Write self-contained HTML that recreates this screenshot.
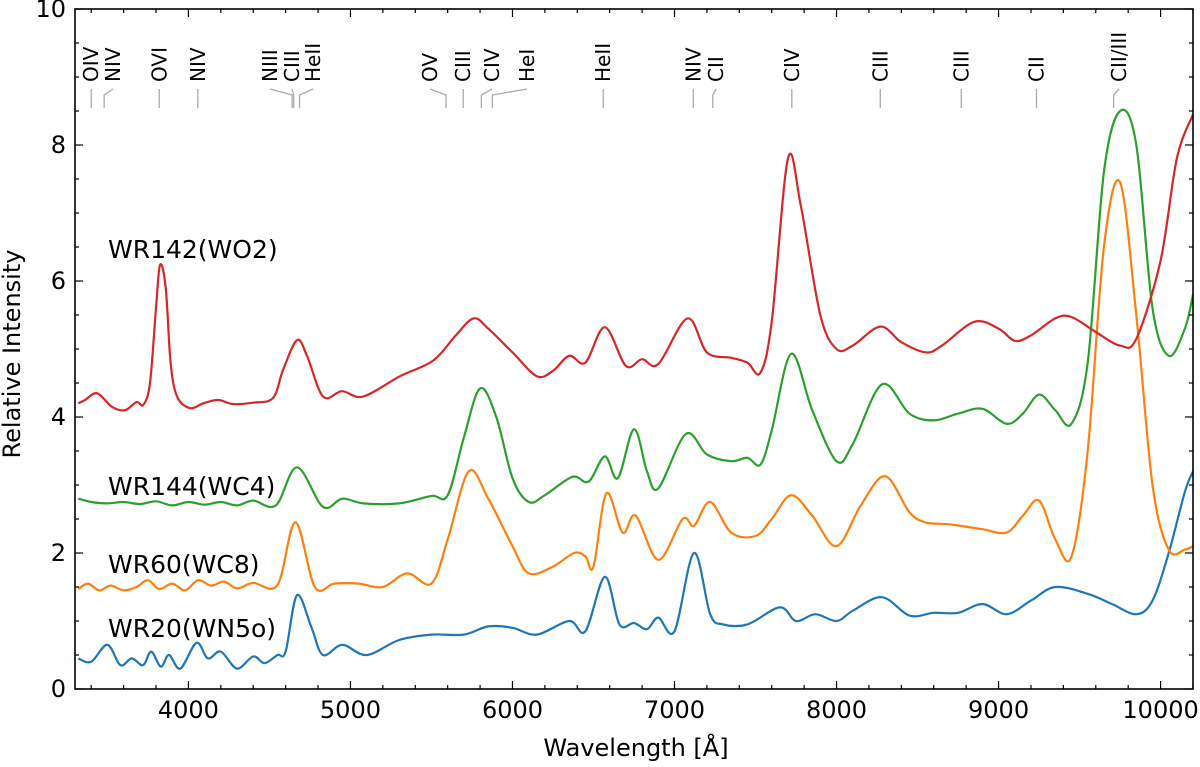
<!DOCTYPE html>
<html><head><meta charset="utf-8"><style>
html,body{margin:0;padding:0;background:#fff;}
svg text{font-family:"DejaVu Sans","Liberation Sans",sans-serif;}
</style></head><body>
<svg id="chart" width="1200" height="762" viewBox="0 0 1200 762" xmlns="http://www.w3.org/2000/svg">
<g id="lines"></g>
<g id="annots"></g>
<g id="axes"></g>
</svg>
<script>
const xTicks=[4000,5000,6000,7000,8000,9000,10000];
const yTicks=[0,2,4,6,8,10];
const seriesNames=["WR20(WN5o)","WR60(WC8)","WR144(WC4)","WR142(WO2)"];
const seriesColors=["#1f77b4","#ff7f0e","#2ca02c","#d62728"];
const wr142=[[3320,4.2],[3362,4.25],[3436,4.35],[3528,4.15],[3609,4.1],[3680,4.22],[3722,4.18],[3763,4.5],[3800,5.6],[3825,6.24],[3860,5.9],[3890,4.8],[3930,4.3],[4010,4.13],[4090,4.2],[4183,4.25],[4275,4.19],[4399,4.21],[4522,4.28],[4584,4.69],[4670,5.13],[4732,4.9],[4831,4.3],[4948,4.38],[5078,4.3],[5306,4.6],[5510,4.83],[5650,5.2],[5760,5.45],[5850,5.3],[6000,4.95],[6150,4.6],[6250,4.68],[6350,4.9],[6450,4.8],[6570,5.32],[6700,4.75],[6800,4.85],[6900,4.78],[7080,5.45],[7200,4.95],[7350,4.87],[7450,4.8],[7530,4.65],[7600,5.4],[7700,7.8],[7780,7.1],[7900,5.5],[8000,5.0],[8100,5.05],[8270,5.33],[8400,5.1],[8550,4.95],[8650,5.05],[8850,5.4],[9000,5.3],[9100,5.12],[9200,5.2],[9350,5.45],[9450,5.47],[9600,5.25],[9750,5.05],[9850,5.15],[10000,6.3],[10100,7.8],[10200,8.45]];
const wr144=[[3320,2.8],[3400,2.75],[3500,2.73],[3600,2.75],[3700,2.72],[3800,2.76],[3900,2.7],[4000,2.75],[4100,2.71],[4200,2.75],[4300,2.7],[4400,2.77],[4540,2.7],[4670,3.26],[4830,2.68],[4950,2.8],[5080,2.73],[5300,2.73],[5500,2.84],[5600,2.85],[5700,3.7],[5800,4.42],[5900,4.0],[6000,3.1],[6100,2.75],[6200,2.85],[6370,3.12],[6470,3.05],[6570,3.42],[6650,3.1],[6750,3.82],[6830,3.2],[6900,2.95],[7070,3.75],[7200,3.45],[7350,3.35],[7450,3.4],[7530,3.3],[7600,3.8],[7720,4.93],[7850,4.1],[8000,3.35],[8100,3.6],[8280,4.48],[8450,4.05],[8600,3.95],[8750,4.05],[8900,4.12],[9050,3.9],[9150,4.05],[9250,4.33],[9350,4.1],[9450,3.9],[9550,4.8],[9650,7.6],[9750,8.5],[9850,8.0],[9950,5.6],[10050,4.9],[10150,5.3],[10200,5.8]];
const wr60=[[3320,1.47],[3380,1.55],[3450,1.45],[3520,1.52],[3600,1.45],[3680,1.5],[3750,1.6],[3820,1.47],[3900,1.55],[3980,1.45],[4060,1.6],[4140,1.52],[4220,1.58],[4300,1.48],[4400,1.56],[4550,1.53],[4660,2.45],[4780,1.5],[4900,1.55],[5050,1.55],[5200,1.5],[5350,1.7],[5500,1.55],[5600,2.2],[5730,3.2],[5850,2.8],[6000,2.1],[6100,1.7],[6250,1.8],[6380,2.0],[6450,1.95],[6500,1.8],[6580,2.88],[6680,2.3],[6760,2.55],[6900,1.9],[7050,2.5],[7120,2.4],[7220,2.75],[7350,2.3],[7500,2.25],[7600,2.5],[7720,2.85],[7850,2.55],[8000,2.1],[8150,2.7],[8300,3.13],[8450,2.6],[8550,2.45],[8700,2.42],[8900,2.35],[9050,2.3],[9150,2.55],[9250,2.77],[9350,2.2],[9450,1.95],[9550,3.5],[9650,6.5],[9750,7.45],[9850,5.5],[9950,3.0],[10050,2.05],[10150,2.05],[10200,2.1]];
const wr20=[[3320,0.45],[3400,0.4],[3500,0.65],[3580,0.35],[3650,0.45],[3720,0.35],[3770,0.55],[3830,0.33],[3880,0.5],[3950,0.3],[4050,0.68],[4120,0.45],[4200,0.55],[4300,0.3],[4400,0.48],[4470,0.38],[4550,0.5],[4600,0.55],[4670,1.38],[4760,0.9],[4830,0.5],[4950,0.65],[5100,0.5],[5300,0.72],[5500,0.8],[5700,0.8],[5850,0.92],[6000,0.9],[6150,0.8],[6350,1.0],[6450,0.85],[6570,1.65],[6660,0.95],[6750,0.97],[6830,0.88],[6900,1.05],[7000,0.85],[7120,2.0],[7220,1.1],[7300,0.95],[7450,0.95],[7650,1.2],[7750,1.0],[7870,1.1],[8000,1.0],[8100,1.15],[8280,1.35],[8450,1.08],[8600,1.12],[8750,1.12],[8900,1.25],[9050,1.1],[9200,1.3],[9350,1.5],[9550,1.4],[9700,1.25],[9850,1.1],[9950,1.3],[10050,2.0],[10150,2.9],[10200,3.2]];
const lineLabels=["OIV","NIV","OVI","NIV","NIII","CIII","HeII","OV","CIII","CIV","HeI","HeII","NIV","CII","CIV","CIII","CIII","CII","CII/III"];
const lineWaves=[3400,3480,3820,4058,4640,4650,4686,5590,5696,5808,5876,6560,7116,7236,7724,8270,8770,9234,9710];
const labelWaves=[3400,3535,3820,4058,4504,4640,4769,5491,5696,5874,6090,6560,7116,7257,7724,8270,8770,9234,9744];
const NS="http://www.w3.org/2000/svg";
const X0=75,X1=1193,Y0=689,Y1=9,WMIN=3300,WMAX=10200;
const sx=w=>X0+(w-WMIN)/(WMAX-WMIN)*(X1-X0);
const sy=v=>Y0-v/10*(Y0-Y1);
function mk(tag,attrs,parent){const e=document.createElementNS(NS,tag);for(const k in attrs)e.setAttribute(k,attrs[k]);parent.appendChild(e);return e;}
function spline(pts){let d="M"+pts[0][0].toFixed(1)+","+pts[0][1].toFixed(1);
 for(let i=0;i<pts.length-1;i++){const p0=pts[Math.max(0,i-1)],p1=pts[i],p2=pts[i+1],p3=pts[Math.min(pts.length-1,i+2)];
 const c1=[p1[0]+(p2[0]-p0[0])/6,p1[1]+(p2[1]-p0[1])/6],c2=[p2[0]-(p3[0]-p1[0])/6,p2[1]-(p3[1]-p1[1])/6];
 d+="C"+c1.map(v=>v.toFixed(1))+" "+c2.map(v=>v.toFixed(1))+" "+p2.map(v=>v.toFixed(1));}
 return d;}
const lines=document.getElementById("lines"),annots=document.getElementById("annots"),axes=document.getElementById("axes");
mk("clipPath",{id:"clip"},lines).appendChild(document.createElementNS(NS,"rect"));
const cr=lines.querySelector("rect");cr.setAttribute("x",X0);cr.setAttribute("y",Y1);cr.setAttribute("width",X1-X0);cr.setAttribute("height",Y0-Y1);
const allSeries=[wr20,wr60,wr144,wr142];
const labelPos=[[108,637],[108,573],[108,495],[108,258]];
allSeries.forEach((s,i)=>{
 const p=mk("path",{d:spline(s.map(q=>[sx(q[0]),sy(q[1])])),fill:"none",stroke:seriesColors[i],"stroke-width":2.2,"clip-path":"url(#clip)"},lines);
 
 
 const t=mk("text",{x:labelPos[i][0],y:labelPos[i][1],"font-size":25,fill:"#000"},lines);
 t.textContent=seriesNames[i];
 
 
});
lineLabels.forEach((lab,i)=>{
 const lx=sx(labelWaves[i]),tx=sx(lineWaves[i]);
 const pl=mk("polyline",{points:`${lx},89 ${tx},95 ${tx},108`,fill:"none",stroke:"#aaa","stroke-width":1.3},annots);
 
 
 const t=mk("text",{x:0,y:0,"font-size":20,transform:`translate(${lx+7},82) rotate(-90)`},annots);
 t.textContent=lab;
 
 
});
const fr=mk("rect",{x:X0,y:Y1,width:X1-X0,height:Y0-Y1,fill:"none",stroke:"#000","stroke-width":1.6},axes);


for(let w=3400;w<=WMAX;w+=200){const x=sx(w),major=w%1000===0,L=major?8:4;
 mk("line",{x1:x,x2:x,y1:Y0,y2:Y0-L,stroke:"#000","stroke-width":1.2},axes);
 mk("line",{x1:x,x2:x,y1:Y1,y2:Y1+L,stroke:"#000","stroke-width":1.2},axes);}
for(let v=0;v<=10;v+=0.5){const y=sy(v),major=v%2===0,L=major?8:4;
 mk("line",{x1:X0,x2:X0+L,y1:y,y2:y,stroke:"#000","stroke-width":1.2},axes);
 mk("line",{x1:X1,x2:X1-L,y1:y,y2:y,stroke:"#000","stroke-width":1.2},axes);}
xTicks.forEach(w=>{const t=mk("text",{x:sx(w),y:718,"font-size":24,"text-anchor":"middle"},axes);t.textContent=w;
 
 });
yTicks.forEach(v=>{const t=mk("text",{x:X0-9,y:sy(v)+8,"font-size":24,"text-anchor":"end"},axes);t.textContent=v;
 
 });
const xt=mk("text",{x:636,y:756,"font-size":24,"text-anchor":"middle"},axes);xt.textContent="Wavelength [Å]";


const yt=mk("text",{x:0,y:0,"font-size":24,"text-anchor":"middle",transform:"translate(20,354) rotate(-90)"},axes);yt.textContent="Relative Intensity";


</script>
</body></html>
